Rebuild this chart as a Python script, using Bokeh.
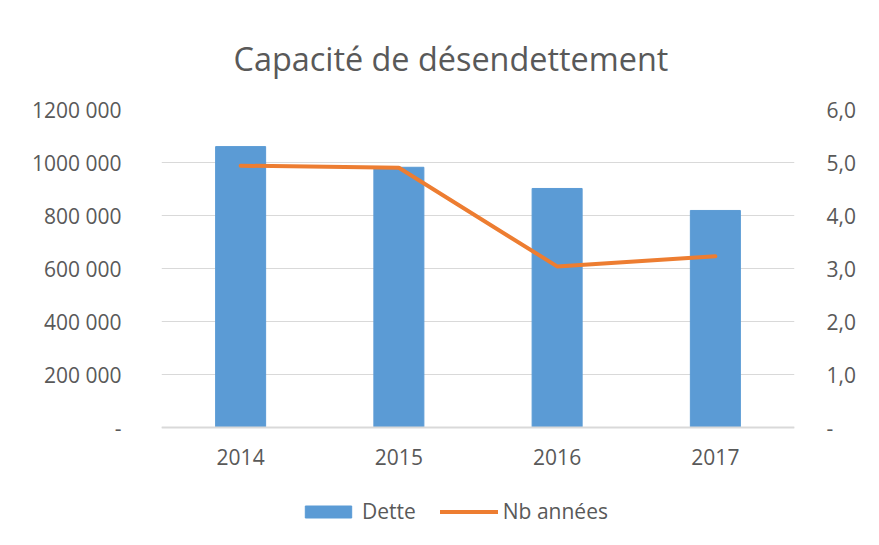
from bokeh.plotting import figure
from bokeh.models import (ColumnDataSource, Range1d, LinearAxis, FixedTicker,
                          Legend, LegendItem, FactorRange)
from bokeh.embed import file_html
from bokeh.resources import INLINE

years = ["2014", "2015", "2016", "2017"]
dette = [1060000, 982000, 902000, 819000]
nb_annees = [4.94, 4.90, 3.04, 3.23]

left_ticks = [0, 200000, 400000, 600000, 800000, 1000000, 1200000]
left_labels = ["-", "200 000", "400 000", "600 000", "800 000", "1000 000", "1200 000"]
right_ticks = [0, 1, 2, 3, 4, 5, 6]
right_labels = ["-", "1,0", "2,0", "3,0", "4,0", "5,0", "6,0"]

FONT = "Open Sans"
TXT = "#595959"
GRID = "#d9d9d9"

# layout (pixels)
W, H = 879, 545
TOP, BOTTOM_BORDER = 109, 5
ZERO_PX = 427            # pixel row of the value 0
below_zero = (H - BOTTOM_BORDER) - ZERO_PX
above_zero = ZERO_PX - TOP
y1_max = left_ticks[-1]
y2_max = right_ticks[-1]

src = ColumnDataSource(dict(year=years, dette=dette, nb=nb_annees))

p = figure(x_range=FactorRange(*years),
           y_range=Range1d(-y1_max * below_zero / above_zero, y1_max),
           width=W, height=H, output_backend="svg", toolbar_location=None,
           min_border_left=161, min_border_right=85, min_border_top=TOP,
           min_border_bottom=BOTTOM_BORDER, outline_line_color=None,
           title="Capacité de désendettement")

p.title.align = "left"
p.title.offset = 72
p.title.text_font = FONT
p.title.text_font_size = "32.4px"
p.title.text_font_style = "normal"
p.title.text_color = TXT
p.title.standoff = 60

p.extra_y_ranges = {"y2": Range1d(-y2_max * below_zero / above_zero, y2_max)}

bars = p.vbar(x="year", top="dette", width=0.316, source=src, color="#5B9BD5")
line = p.line(x="year", y="nb", source=src, y_range_name="y2",
              line_color="#ED7D31", line_width=4, line_cap="round", line_join="round")

ya = p.yaxis[0]
ya.ticker = FixedTicker(ticks=left_ticks)
ya.major_label_overrides = {t: l for t, l in zip(left_ticks, left_labels)}

ra = LinearAxis(y_range_name="y2", ticker=FixedTicker(ticks=right_ticks))
ra.major_label_overrides = {t: l for t, l in zip(right_ticks, right_labels)}
p.add_layout(ra, "right")

for ax in (ya, ra):
    ax.axis_line_color = None
    ax.major_tick_line_color = None
    ax.minor_tick_line_color = None
    ax.major_label_text_font = FONT
    ax.major_label_text_font_size = "21px"
    ax.major_label_text_color = TXT
ya.major_label_standoff = 34
ra.major_label_standoff = 26

xa = p.xaxis[0]
xa.fixed_location = 0
xa.axis_line_color = GRID
xa.axis_line_width = 2
xa.major_tick_line_color = None
xa.minor_tick_line_color = None
xa.major_label_text_font = FONT
xa.major_label_text_font_size = "21px"
xa.major_label_text_color = TXT
xa.major_label_standoff = 15

p.xgrid.grid_line_color = None
p.ygrid.grid_line_color = GRID
p.ygrid.grid_line_width = 1

legend = Legend(items=[LegendItem(label="Dette", renderers=[bars]),
                       LegendItem(label="Nb années", renderers=[line])],
                orientation="horizontal", location=(138, 15),
                border_line_color=None, background_fill_color=None,
                label_text_font=FONT, label_text_font_size="21px",
                label_text_color=TXT, glyph_width=58, glyph_height=15,
                label_standoff=5, spacing=24, margin=0, padding=5)
p.add_layout(legend, "center")

open("out.html", "w").write(file_html(p, INLINE))
